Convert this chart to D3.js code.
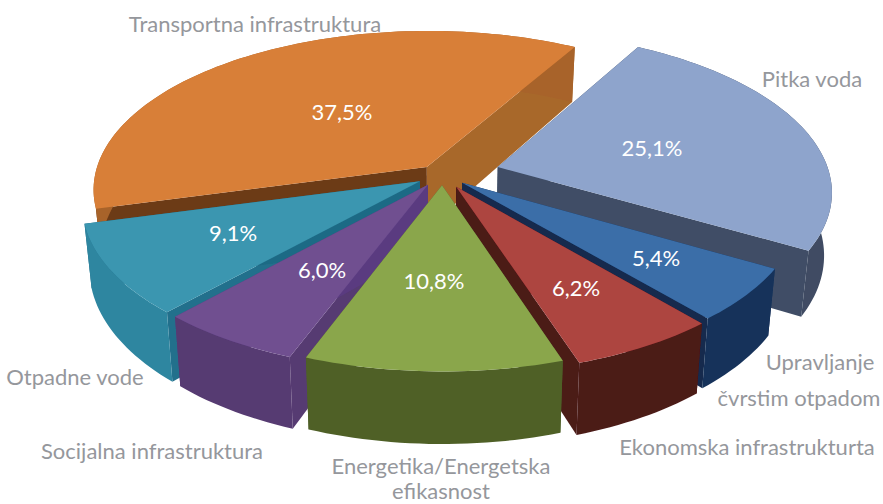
<!DOCTYPE html>
<html>
<head>
<meta charset="utf-8">
<script src="https://cdnjs.cloudflare.com/ajax/libs/d3/7.8.5/d3.min.js"></script>
<style>
  html, body { margin: 0; padding: 0; background: #fff; }
  text { font-family: Lato, "Open Sans", sans-serif; }
</style>
</head>
<body>
<div id="chart"></div>
<script>
// data
var categories = ["Transportna infrastruktura", "Pitka voda", "Upravljanje čvrstim otpadom",
    "Ekonomska infrastrukturta", "Energetika/Energetska efikasnost", "Socijalna infrastruktura", "Otpadne vode"];
var values = [37.5, 25.1, 5.4, 6.2, 10.8, 6.0, 9.1];
var valueLabels = ["37,5%", "25,1%", "5,4%", "6,2%", "10,8%", "6,0%", "9,1%"];

// how far each slice is pulled out of the pie, in pie radii
var offsetU = [-0.04, 0.175, 0.066, 0.048, 0.006, -0.036, -0.06];
var offsetV = [-0.07, -0.07, 0.03, 0.055, 0.045, 0.042, 0.02];

// colours: top face, outer wall, wall on the start edge, wall on the end edge
var topColors = ["#d87f38", "#8ea4cc", "#3a6ea8", "#ad4440", "#8aa64c", "#6f4f90", "#3a96b0"];
var outerColors = ["#a8632a", "#3f4c64", "#17325a", "#4c1a18", "#4f6028", "#573a72", "#2f86a0"];
var startWallColors = ["#6c3a16", "#3f4d66", "#17325a", "#571517", "#4f6028", "#573a72", "#24708c"];
var endWallColors = ["#a8672a", "#3f4d66", "#13294d", "#4c1a18", "#4f6028", "#5a3b80", "#1f6a85"];

// back to front
var drawOrder = [0, 1, 6, 2, 5, 3, 4];

var width = 883, height = 504;
var cx = 440, cy = 178, rx = 333, ry = 158;
var perspective = 0.14, depth = 62, shrink = 0.02;

var svg = d3.select("#chart").append("svg")
    .attr("width", width)
    .attr("height", height)
    .style("display", "block");

svg.append("defs").append("filter")
    .attr("id", "soft")
    .append("feGaussianBlur")
    .attr("stdDeviation", 0.5);

var x = d3.scaleLinear().domain([-1, 1]).range([cx - rx, cx + rx]);
var y = d3.scaleLinear().domain([-1, 1]).range([cy - ry, cy + ry]);

// u to the right, v toward the viewer, z from top face (0) to bottom face (1)
function project(u, v, z) {
    var s = 1 / (1 - perspective * v);
    return [x(u * s * (1 - shrink * z)), y(v * s) + depth * z * s];
}

var arcs = d3.pie().sort(null)
    .startAngle(-105 * Math.PI / 180)
    .endAngle(255 * Math.PI / 180)(values);

var line = d3.line();

function rimPoints(d, i, z) {
    var n = Math.max(8, Math.round((d.endAngle - d.startAngle) * 40));
    return d3.range(n + 1).map(function (k) {
        var a = d.startAngle + (d.endAngle - d.startAngle) * k / n;
        return project(offsetU[i] + Math.sin(a), offsetV[i] - Math.cos(a), z);
    });
}

var pie = svg.append("g").attr("filter", "url(#soft)");

drawOrder.forEach(function (i) {
    var d = arcs[i];
    var top = rimPoints(d, i, 0), bottom = rimPoints(d, i, 1);
    var a0 = project(offsetU[i], offsetV[i], 0), a1 = project(offsetU[i], offsetV[i], 1);
    var g = pie.append("g");

    // the two cut faces
    g.append("path")
        .attr("d", line([a0, top[0], bottom[0], a1]) + "Z")
        .attr("fill", startWallColors[i]);
    g.append("path")
        .attr("d", line([a0, top[top.length - 1], bottom[bottom.length - 1], a1]) + "Z")
        .attr("fill", endWallColors[i]);
    // outer wall
    g.append("path")
        .attr("d", line(top.concat(bottom.slice().reverse())) + "Z")
        .attr("fill", outerColors[i]);
    // top face
    g.append("path")
        .attr("d", line([a0].concat(top)) + "Z")
        .attr("fill", topColors[i]);
});

// value labels
var valueLabelX = [342, 652, 656, 576, 434, 322, 233];
var valueLabelY = [112, 148, 258, 288, 281, 270, 233];
svg.append("g").selectAll("text")
    .data(valueLabels)
    .enter()
    .append("text")
    .attr("x", function (d, i) { return valueLabelX[i]; })
    .attr("y", function (d, i) { return valueLabelY[i]; })
    .attr("dy", "0.35em")
    .attr("text-anchor", "middle")
    .attr("font-size", 22)
    .attr("fill", "#fff")
    .text(function (d) { return d; });

// category labels, two of them broken over two lines
var labelLines = [
    { t: categories[0], x: 255, y: 24 },
    { t: categories[1], x: 812, y: 79 },
    { t: "Upravljanje", x: 820, y: 362 },
    { t: "čvrstim otpadom", x: 799, y: 398 },
    { t: categories[3], x: 747, y: 447 },
    { t: "Energetika/Energetska", x: 441, y: 466 },
    { t: "efikasnost", x: 441, y: 491 },
    { t: categories[5], x: 152, y: 451 },
    { t: categories[6], x: 75, y: 377 }
];
svg.append("g").selectAll("text")
    .data(labelLines)
    .enter()
    .append("text")
    .attr("x", function (d) { return d.x; })
    .attr("y", function (d) { return d.y; })
    .attr("dy", "0.35em")
    .attr("text-anchor", "middle")
    .attr("font-size", 22)
    .attr("fill", "#95979c")
    .text(function (d) { return d.t; });
</script>
</body>
</html>
